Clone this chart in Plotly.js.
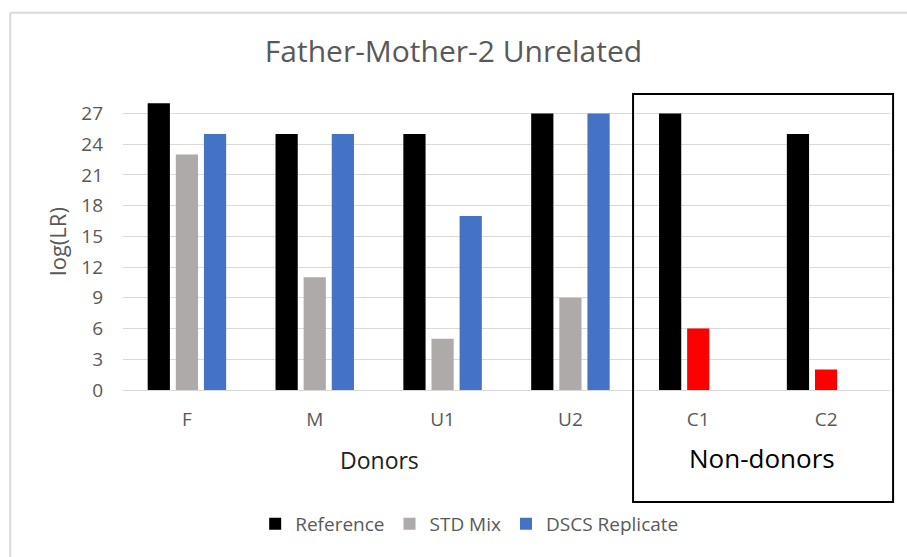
<!DOCTYPE html>
<html><head><meta charset="utf-8">
<script src="https://cdn.plot.ly/plotly-3.0.1.min.js"></script>
<style>html,body{margin:0;padding:0;background:#fff}#chart{width:907px;height:557px}</style>
</head><body><div id="chart"></div>
<script>
const categories = ['F', 'M', 'U1', 'U2', 'C1', 'C2'];
const referenceVals = [28, 25, 25, 27, 27, 25];
const stdMixVals = [23, 11, 5, 9, 6, 2];
const dscsVals = [25, 25, 17, 27, null, null];
const nonDonors = ['C1', 'C2'];
const yTicks = [0, 3, 6, 9, 12, 15, 18, 21, 24, 27];

const font = 'Open Sans, Lato, sans-serif';
const stdColors = categories.map(c => nonDonors.includes(c) ? '#ff0000' : '#aeaaaa');

const traces = [
  {type: 'bar', name: 'Reference', x: categories, y: referenceVals, marker: {color: '#000000'}},
  {type: 'bar', name: 'STD Mix', x: categories, y: stdMixVals, marker: {color: stdColors}},
  {type: 'bar', name: 'DSCS Replicate', x: categories, y: dscsVals, marker: {color: '#4472c4'}}
];

const layout = {
  width: 907, height: 557,
  margin: {l: 123, r: 17, t: 93, b: 167},
  paper_bgcolor: '#ffffff', plot_bgcolor: '#ffffff',
  barmode: 'group', bargap: 0.34, bargroupgap: 0.21,
  title: {text: 'Father-Mother-2 Unrelated', font: {family: font, size: 30, color: '#595959'}, x: 0.5, xanchor: 'center', y: 0.907, yanchor: 'middle'},
  xaxis: {
    type: 'category', showgrid: false, showline: true, linecolor: '#d9d9d9', linewidth: 1,
    tickfont: {family: font, size: 19, color: '#595959'}, ticks: '', ticklabelstandoff: 12
  },
  yaxis: {
    range: [0, 29], tickvals: yTicks, showgrid: true, gridcolor: '#d9d9d9', zeroline: false,
    tickfont: {family: font, size: 19, color: '#595959'}, ticks: '', ticklabelstandoff: 19,
    title: {text: 'log(LR)', font: {family: font, size: 22, color: '#595959'}, standoff: 8}
  },
  showlegend: true,
  legend: {orientation: 'h', x: 0.452, xanchor: 'center', y: -0.451, yanchor: 'middle',
    font: {family: font, size: 19, color: '#595959'}, traceorder: 'normal', itemwidth: 30},
  annotations: [
    {text: 'Donors', xref: 'paper', yref: 'paper', x: 0.335, y: -0.236, showarrow: false,
      font: {family: font, size: 23, color: '#222222'}, xanchor: 'center', yanchor: 'middle'},
    {text: 'Non-donors', xref: 'paper', yref: 'paper', x: 0.833, y: -0.229, showarrow: false,
      font: {family: font, size: 26, color: '#000000'}, xanchor: 'center', yanchor: 'middle'}
  ],
  shapes: [
    {type: 'rect', xref: 'paper', yref: 'paper', x0: 0.665, x1: 1.004, y0: -0.377, y1: 0.997,
      line: {color: '#000000', width: 2}, fillcolor: 'rgba(0,0,0,0)'},
    {type: 'line', xref: 'paper', yref: 'paper', x0: -0.147, x1: 1.03, y0: 1.27, y1: 1.27,
      line: {color: '#d9d9d9', width: 2}},
    {type: 'line', xref: 'paper', yref: 'paper', x0: -0.147, x1: -0.147, y0: 1.27, y1: -0.6,
      line: {color: '#d9d9d9', width: 2}}
  ]
};

Plotly.newPlot('chart', traces, layout, {displayModeBar: false, staticPlot: true});
</script></body></html>
